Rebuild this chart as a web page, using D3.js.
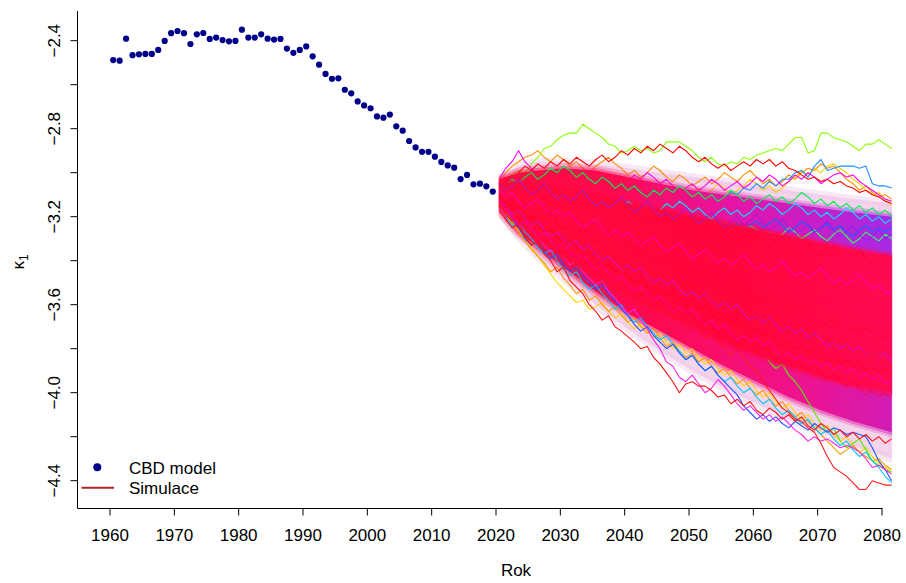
<!DOCTYPE html>
<html><head><meta charset="utf-8">
<script src="https://cdn.jsdelivr.net/npm/d3@7/dist/d3.min.js"></script>
<style>
body{margin:0;background:#fff}
text{font-family:"Liberation Sans",Arial,Helvetica,sans-serif;fill:#000}
</style>
</head><body>
<svg id="chart" width="906" height="583"></svg>
<script>
// ---------- data ----------
const obsYears = [1960,1961,1962,1963,1964,1965,1966,1967,1968,1969,1970,1971,1972,1973,1974,1975,1976,1977,1978,1979,1980,1981,1982,1983,1984,1985,1986,1987,1988,1989,1990,1991,1992,1993,1994,1995,1996,1997,1998,1999,2000,2001,2002,2003,2004,2005,2006,2007,2008,2009,2010,2011,2012,2013,2014,2015,2016,2017,2018,2019];
const obsKappa = [-2.488,-2.491,-2.391,-2.466,-2.462,-2.460,-2.460,-2.442,-2.401,-2.366,
-2.356,-2.366,-2.415,-2.371,-2.365,-2.392,-2.386,-2.397,-2.403,-2.401,
-2.350,-2.386,-2.386,-2.371,-2.391,-2.395,-2.392,-2.436,-2.455,-2.442,
-2.426,-2.471,-2.509,-2.551,-2.573,-2.571,-2.623,-2.639,-2.676,-2.694,
-2.707,-2.744,-2.750,-2.736,-2.789,-2.809,-2.856,-2.885,-2.905,-2.905,
-2.927,-2.951,-2.967,-2.977,-3.029,-3.010,-3.053,-3.050,-3.062,-3.086];

const simYears = [2020,2021,2022,2023,2024,2025,2026,2027,2028,2029,2030,2031,2032,2033,2034,2035,2036,2037,2038,2039,2040,2041,2042,2043,2044,2045,2046,2047,2048,2049,2050,2051,2052,2053,2054,2055,2056,2057,2058,2059,2060,2061,2062,2063,2064,2065,2066,2067,2068,2069,2070,2071,2072,2073,2074,2075,2076,2077,2078,2079,2080,2081];

const xTickValues = [1960,1970,1980,1990,2000,2010,2020,2030,2040,2050,2060,2070,2080];
const yTickValues = [-2.4,-2.6,-2.8,-3.0,-3.2,-3.4,-3.6,-3.8,-4.0,-4.2,-4.4];
const yLabelValues = [-2.4,-2.8,-3.2,-3.6,-4.0,-4.4];

// density bands of the simulated fan
const bandYears = [2020,2023,2026,2030,2035,2040,2045,2050,2055,2060,2065,2070,2075,2081];
const fringeTop = [-3.03,-2.97,-2.95,-2.95,-2.96,-2.98,-3.00,-3.02,-3.04,-3.06,-3.08,-3.10,-3.12,-3.14];
const fringeBot = [-3.18,-3.29,-3.38,-3.48,-3.60,-3.71,-3.81,-3.90,-3.98,-4.05,-4.12,-4.18,-4.24,-4.30];
const coreTop   = [-3.03,-3.00,-2.99,-2.98,-2.99,-3.02,-3.05,-3.08,-3.10,-3.12,-3.14,-3.16,-3.18,-3.20];
const coreBot   = [-3.17,-3.27,-3.34,-3.43,-3.54,-3.64,-3.72,-3.80,-3.88,-3.95,-4.02,-4.08,-4.13,-4.18];
const centerTop = [-3.05,-3.04,-3.05,-3.07,-3.10,-3.14,-3.17,-3.20,-3.23,-3.26,-3.29,-3.32,-3.35,-3.38];
const centerBot = [-3.15,-3.23,-3.30,-3.38,-3.47,-3.56,-3.63,-3.70,-3.77,-3.83,-3.88,-3.93,-3.97,-4.00];

// individual simulated paths (outer ones visible in the picture)
const simGreenTop = [-3.06,-3.03,-3.01,-2.99,-3.00,-2.96,-2.93,-2.89,-2.88,-2.85,
-2.83,-2.82,-2.82,-2.78,-2.80,-2.82,-2.84,-2.87,-2.88,-2.91,
-2.90,-2.88,-2.90,-2.89,-2.91,-2.90,-2.86,-2.86,-2.86,-2.88,
-2.90,-2.93,-2.95,-2.93,-2.96,-2.97,-2.95,-2.96,-2.93,-2.94,
-2.92,-2.91,-2.90,-2.89,-2.90,-2.87,-2.84,-2.84,-2.91,-2.90,
-2.82,-2.82,-2.84,-2.85,-2.86,-2.88,-2.90,-2.87,-2.87,-2.85,
-2.87,-2.89];
const simBlueTop = [-3.09,-3.07,-3.10,-3.06,-3.08,-3.05,-3.09,-3.11,-3.08,-3.12,
-3.10,-3.07,-3.09,-3.13,-3.11,-3.14,-3.10,-3.08,-3.12,-3.15,
-3.13,-3.10,-3.12,-3.16,-3.14,-3.11,-3.09,-3.12,-3.15,-3.13,
-3.10,-3.12,-3.09,-3.11,-3.14,-3.12,-3.09,-3.10,-3.07,-3.08,
-3.05,-3.07,-3.04,-3.06,-3.03,-3.03,-3.00,-2.99,-3.02,-2.97,
-2.94,-2.99,-2.98,-2.97,-2.97,-2.97,-2.98,-2.97,-3.05,-3.06,
-3.06,-3.07];
const simRedTop = [-3.05,-3.02,-3.04,-3.00,-2.97,-2.99,-2.96,-2.98,-2.95,-2.97,
-2.94,-2.96,-2.93,-2.95,-2.97,-2.94,-2.92,-2.95,-2.93,-2.90,
-2.92,-2.89,-2.91,-2.88,-2.90,-2.87,-2.89,-2.91,-2.88,-2.90,
-2.93,-2.95,-2.93,-2.96,-2.98,-2.96,-2.99,-2.97,-2.95,-2.97,
-2.94,-2.96,-2.94,-2.97,-2.95,-2.98,-2.99,-3.01,-3.03,-3.02,
-3.04,-3.03,-3.05,-3.04,-3.06,-3.07,-3.09,-3.08,-3.10,-3.11,
-3.13,-3.14];
const simOrangeTop = [-3.04,-3.00,-2.97,-2.95,-2.93,-2.92,-2.90,-2.93,-2.95,-2.92,
-2.94,-2.97,-2.95,-2.98,-3.00,-2.97,-2.95,-2.93,-2.96,-2.98,
-3.01,-2.99,-3.02,-3.00,-2.97,-2.99,-3.02,-3.04,-3.01,-3.03,
-3.06,-3.04,-3.02,-3.05,-3.03,-3.00,-3.02,-3.04,-3.01,-2.99,
-3.02,-3.05,-3.03,-3.06,-3.04,-3.01,-3.03,-3.00,-2.98,-2.99,
-2.96,-2.98,-2.97,-3.00,-3.03,-3.05,-3.08,-3.06,-3.09,-3.11,
-3.10,-3.12];
const simMagentaTop = [-3.03,-2.98,-2.95,-2.90,-2.95,-2.98,-3.01,-2.99,-3.03,-3.05,
-3.02,-3.06,-3.08,-3.05,-3.07,-3.10,-3.08,-3.05,-3.03,-3.06,
-3.04,-3.01,-3.03,-3.00,-3.02,-3.05,-3.03,-3.06,-3.09,-3.07,
-3.05,-3.08,-3.06,-3.03,-3.05,-3.08,-3.06,-3.04,-3.07,-3.05,
-3.02,-3.04,-3.01,-3.03,-3.06,-3.04,-3.01,-3.03,-3.00,-3.02,
-3.05,-3.03,-3.01,-3.00,-3.02,-3.01,-3.04,-3.06,-3.08,-3.10,
-3.12,-3.13];
const simYellowTop = [-3.06,-3.04,-3.07,-3.05,-3.02,-3.04,-3.01,-2.99,-3.02,-3.05,
-3.03,-3.06,-3.04,-3.07,-3.09,-3.07,-3.10,-3.08,-3.11,-3.09,
-3.06,-3.08,-3.05,-3.07,-3.10,-3.08,-3.11,-3.13,-3.10,-3.12,
-3.09,-3.07,-3.10,-3.08,-3.05,-3.07,-3.10,-3.08,-3.06,-3.03,
-3.05,-3.08,-3.06,-3.09,-3.07,-3.04,-3.02,-2.99,-3.01,-2.98,
-3.00,-2.97,-2.96,-2.98,-3.00,-3.03,-3.05,-3.08,-3.10,-3.09,
-3.12,-3.15];
const simCyanTop = [-3.07,-3.05,-3.08,-3.10,-3.07,-3.09,-3.12,-3.10,-3.13,-3.11,
-3.08,-3.10,-3.13,-3.15,-3.12,-3.14,-3.17,-3.15,-3.18,-3.16,
-3.13,-3.15,-3.18,-3.16,-3.19,-3.17,-3.14,-3.16,-3.13,-3.15,
-3.18,-3.16,-3.19,-3.21,-3.18,-3.16,-3.19,-3.17,-3.20,-3.18,
-3.15,-3.17,-3.14,-3.16,-3.19,-3.17,-3.14,-3.16,-3.19,-3.17,
-3.20,-3.18,-3.21,-3.19,-3.16,-3.18,-3.21,-3.19,-3.22,-3.20,
-3.23,-3.21];
const simGreen2Top = [-3.08,-3.06,-3.03,-3.05,-3.02,-3.00,-3.03,-3.01,-2.98,-3.00,
-2.97,-2.99,-3.02,-3.00,-3.03,-3.05,-3.02,-3.04,-3.07,-3.05,
-3.08,-3.06,-3.09,-3.11,-3.08,-3.10,-3.07,-3.09,-3.06,-3.08,
-3.11,-3.09,-3.12,-3.10,-3.13,-3.11,-3.08,-3.10,-3.13,-3.11,
-3.14,-3.12,-3.10,-3.13,-3.11,-3.14,-3.12,-3.09,-3.11,-3.14,
-3.12,-3.15,-3.13,-3.16,-3.14,-3.17,-3.15,-3.18,-3.16,-3.19,
-3.17,-3.20];
const simBlueMid = [-3.08,-3.11,-3.09,-3.12,-3.10,-3.14,-3.13,-3.16,-3.15,-3.12,
-3.14,-3.17,-3.16,-3.19,-3.18,-3.15,-3.17,-3.20,-3.22,-3.19,
-3.21,-3.18,-3.20,-3.23,-3.21,-3.24,-3.22,-3.19,-3.21,-3.24,
-3.26,-3.23,-3.25,-3.22,-3.24,-3.27,-3.25,-3.23,-3.26,-3.24,
-3.22,-3.25,-3.23,-3.21,-3.24,-3.27,-3.25,-3.22,-3.24,-3.27,
-3.25,-3.23,-3.26,-3.24,-3.27,-3.29,-3.26,-3.24,-3.27,-3.25,
-3.27,-3.25];
const simGreenMid = [-3.09,-3.07,-3.10,-3.13,-3.11,-3.09,-3.12,-3.10,-3.13,-3.16,
-3.14,-3.11,-3.13,-3.16,-3.14,-3.17,-3.19,-3.16,-3.18,-3.21,
-3.19,-3.22,-3.20,-3.17,-3.19,-3.22,-3.25,-3.23,-3.20,-3.22,
-3.25,-3.23,-3.26,-3.28,-3.25,-3.23,-3.26,-3.29,-3.27,-3.24,
-3.26,-3.29,-3.27,-3.30,-3.28,-3.25,-3.27,-3.30,-3.28,-3.26,
-3.29,-3.31,-3.28,-3.26,-3.29,-3.32,-3.30,-3.27,-3.29,-3.31,
-3.28,-3.30];
const simRedLow = [-3.15,-3.19,-3.22,-3.20,-3.25,-3.28,-3.26,-3.31,-3.34,-3.32,
-3.37,-3.39,-3.36,-3.41,-3.45,-3.43,-3.47,-3.49,-3.46,-3.51,
-3.55,-3.53,-3.56,-3.60,-3.58,-3.62,-3.64,-3.61,-3.66,-3.70,
-3.68,-3.71,-3.75,-3.73,-3.77,-3.79,-3.83,-3.80,-3.84,-3.88,
-3.90,-3.95,-3.99,-4.03,-4.07,-4.09,-4.12,-4.13,-4.16,-4.18,
-4.23,-4.29,-4.34,-4.36,-4.38,-4.41,-4.44,-4.44,-4.40,-4.41,
-4.42,-4.42];
const simRedMid = [-3.17,-3.21,-3.25,-3.23,-3.29,-3.33,-3.31,-3.37,-3.40,-3.45,
-3.43,-3.49,-3.52,-3.55,-3.60,-3.63,-3.67,-3.65,-3.70,-3.72,
-3.745,-3.77,-3.80,-3.79,-3.84,-3.87,-3.91,-3.95,-4.00,-3.96,
-3.95,-3.97,-3.97,-3.99,-4.02,-4.01,-4.05,-4.03,-4.06,-4.04,
-4.08,-4.10,-4.07,-4.09,-4.12,-4.10,-4.13,-4.11,-4.15,-4.17,
-4.14,-4.16,-4.19,-4.17,-4.20,-4.18,-4.21,-4.19,-4.22,-4.20,
-4.23,-4.21];
const simMagentaLow = [-3.16,-3.20,-3.18,-3.22,-3.26,-3.24,-3.29,-3.33,-3.36,-3.34,
-3.38,-3.42,-3.40,-3.45,-3.48,-3.51,-3.49,-3.54,-3.57,-3.61,
-3.64,-3.62,-3.67,-3.71,-3.76,-3.80,-3.86,-3.88,-3.93,-3.95,
-3.92,-3.96,-4.00,-3.98,-3.94,-3.97,-4.01,-4.05,-4.08,-4.06,
-4.09,-4.12,-4.10,-4.13,-4.11,-4.14,-4.17,-4.19,-4.22,-4.20,
-4.22,-4.21,-4.23,-4.25,-4.24,-4.25,-4.27,-4.30,-4.34,-4.33,
-4.35,-4.37];
const simOrangeLow = [-3.14,-3.18,-3.22,-3.27,-3.31,-3.35,-3.38,-3.41,-3.45,-3.43,
-3.48,-3.51,-3.55,-3.53,-3.58,-3.56,-3.60,-3.63,-3.61,-3.65,
-3.68,-3.66,-3.70,-3.73,-3.71,-3.75,-3.79,-3.77,-3.81,-3.84,
-3.82,-3.86,-3.84,-3.88,-3.91,-3.89,-3.93,-3.96,-3.94,-3.98,
-4.01,-3.99,-4.03,-4.06,-4.04,-4.08,-4.11,-4.09,-4.13,-4.16,
-4.19,-4.22,-4.25,-4.28,-4.26,-4.24,-4.27,-4.29,-4.31,-4.30,
-4.33,-4.35];
const simYellowLow = [-3.15,-3.19,-3.23,-3.26,-3.30,-3.34,-3.38,-3.42,-3.46,-3.50,
-3.53,-3.56,-3.59,-3.58,-3.62,-3.61,-3.59,-3.63,-3.66,-3.64,
-3.68,-3.71,-3.69,-3.72,-3.75,-3.73,-3.77,-3.80,-3.78,-3.82,
-3.80,-3.84,-3.87,-3.85,-3.89,-3.92,-3.90,-3.94,-3.97,-3.95,
-3.99,-4.02,-4.00,-4.04,-4.07,-4.05,-4.09,-4.12,-4.10,-4.14,
-4.17,-4.15,-4.19,-4.22,-4.20,-4.24,-4.27,-4.25,-4.29,-4.32,
-4.34,-4.36];
const simBlueLow = [-3.13,-3.17,-3.21,-3.25,-3.30,-3.33,-3.31,-3.36,-3.39,-3.37,
-3.42,-3.45,-3.43,-3.47,-3.50,-3.53,-3.51,-3.55,-3.58,-3.62,
-3.65,-3.69,-3.72,-3.70,-3.74,-3.77,-3.80,-3.78,-3.82,-3.85,
-3.83,-3.87,-3.90,-3.88,-3.92,-3.95,-3.98,-4.01,-4.06,-4.09,
-4.12,-4.10,-4.13,-4.11,-4.14,-4.16,-4.13,-4.15,-4.17,-4.14,
-4.16,-4.18,-4.16,-4.17,-4.19,-4.18,-4.19,-4.20,-4.25,-4.31,
-4.35,-4.40];
const simGreenLow = [-3.12,-3.15,-3.13,-3.18,-3.21,-3.19,-3.24,-3.26,-3.23,-3.28,
-3.31,-3.29,-3.33,-3.36,-3.34,-3.38,-3.41,-3.39,-3.44,-3.46,
-3.43,-3.48,-3.51,-3.49,-3.54,-3.56,-3.53,-3.58,-3.61,-3.59,
-3.64,-3.66,-3.63,-3.68,-3.71,-3.69,-3.74,-3.77,-3.75,-3.80,
-3.83,-3.81,-3.86,-3.89,-3.87,-3.92,-3.95,-3.99,-4.04,-4.09,
-4.14,-4.18,-4.16,-4.22,-4.25,-4.23,-4.21,-4.26,-4.31,-4.33,
-4.35,-4.36];
const simCyanLow = [-3.16,-3.20,-3.24,-3.22,-3.27,-3.30,-3.34,-3.37,-3.35,-3.40,
-3.44,-3.47,-3.45,-3.50,-3.53,-3.51,-3.55,-3.58,-3.62,-3.60,
-3.65,-3.68,-3.66,-3.70,-3.73,-3.76,-3.74,-3.78,-3.81,-3.85,
-3.83,-3.87,-3.90,-3.88,-3.92,-3.95,-3.93,-3.97,-4.00,-3.98,
-4.02,-4.05,-4.03,-4.07,-4.10,-4.08,-4.11,-4.14,-4.12,-4.16,
-4.19,-4.17,-4.21,-4.24,-4.22,-4.26,-4.29,-4.27,-4.31,-4.34,
-4.38,-4.41];
// paths inside the dense core
const simCore1 = [-3.10,-3.14,-3.12,-3.17,-3.15,-3.19,-3.22,-3.20,-3.18,-3.23,
-3.26,-3.24,-3.28,-3.25,-3.29,-3.32,-3.30,-3.27,-3.31,-3.34,
-3.33,-3.37,-3.35,-3.39,-3.42,-3.40,-3.38,-3.42,-3.45,-3.43,
-3.47,-3.50,-3.48,-3.46,-3.49,-3.53,-3.51,-3.55,-3.52,-3.56,
-3.59,-3.57,-3.60,-3.58,-3.62,-3.65,-3.63,-3.61,-3.64,-3.67,
-3.70,-3.68,-3.66,-3.69,-3.72,-3.70,-3.74,-3.71,-3.73,-3.76,
-3.74,-3.72];
const simCore2 = [-3.06,-3.04,-3.08,-3.05,-3.09,-3.11,-3.08,-3.12,-3.10,-3.07,
-3.11,-3.14,-3.12,-3.15,-3.13,-3.17,-3.19,-3.16,-3.20,-3.18,
-3.15,-3.19,-3.22,-3.20,-3.24,-3.21,-3.19,-3.23,-3.26,-3.24,
-3.21,-3.25,-3.28,-3.26,-3.23,-3.27,-3.30,-3.28,-3.32,-3.29,
-3.27,-3.31,-3.34,-3.31,-3.29,-3.33,-3.36,-3.34,-3.31,-3.35,
-3.38,-3.36,-3.33,-3.37,-3.40,-3.38,-3.35,-3.39,-3.42,-3.39,
-3.37,-3.40];
const simCore3 = [-3.14,-3.18,-3.16,-3.21,-3.25,-3.23,-3.28,-3.31,-3.29,-3.34,
-3.37,-3.35,-3.39,-3.42,-3.40,-3.44,-3.47,-3.45,-3.49,-3.52,
-3.50,-3.53,-3.56,-3.54,-3.58,-3.61,-3.59,-3.62,-3.65,-3.63,
-3.66,-3.69,-3.67,-3.70,-3.73,-3.71,-3.74,-3.77,-3.75,-3.78,
-3.81,-3.79,-3.82,-3.85,-3.83,-3.86,-3.89,-3.87,-3.90,-3.88,
-3.91,-3.94,-3.92,-3.95,-3.97,-3.95,-3.98,-4.01,-3.99,-4.02,
-4.00,-4.03];
const simCore4 = [-3.08,-3.11,-3.09,-3.13,-3.16,-3.14,-3.12,-3.16,-3.19,-3.17,
-3.20,-3.18,-3.22,-3.25,-3.23,-3.21,-3.25,-3.28,-3.26,-3.29,
-3.27,-3.30,-3.33,-3.31,-3.29,-3.33,-3.36,-3.34,-3.32,-3.36,
-3.39,-3.37,-3.35,-3.38,-3.41,-3.39,-3.42,-3.40,-3.37,-3.41,
-3.44,-3.42,-3.45,-3.43,-3.40,-3.44,-3.47,-3.45,-3.48,-3.46,
-3.43,-3.47,-3.50,-3.48,-3.51,-3.49,-3.46,-3.50,-3.53,-3.51,
-3.54,-3.55];
const simCore5 = [-3.12,-3.15,-3.19,-3.17,-3.21,-3.24,-3.22,-3.26,-3.29,-3.27,
-3.30,-3.33,-3.31,-3.35,-3.33,-3.37,-3.40,-3.38,-3.41,-3.44,
-3.42,-3.45,-3.43,-3.47,-3.50,-3.48,-3.51,-3.49,-3.53,-3.56,
-3.54,-3.57,-3.55,-3.58,-3.61,-3.59,-3.62,-3.60,-3.64,-3.67,
-3.65,-3.68,-3.66,-3.69,-3.72,-3.70,-3.73,-3.71,-3.75,-3.73,
-3.76,-3.79,-3.77,-3.80,-3.78,-3.81,-3.79,-3.83,-3.81,-3.84,
-3.82,-3.86];
const simCore6 = [-3.11,-3.13,-3.17,-3.20,-3.18,-3.22,-3.20,-3.24,-3.27,-3.25,
-3.28,-3.31,-3.29,-3.33,-3.36,-3.34,-3.37,-3.35,-3.39,-3.42,
-3.40,-3.43,-3.46,-3.44,-3.47,-3.45,-3.49,-3.52,-3.50,-3.53,
-3.51,-3.55,-3.58,-3.56,-3.59,-3.57,-3.61,-3.63,-3.60,-3.64,
-3.67,-3.65,-3.68,-3.66,-3.70,-3.72,-3.69,-3.73,-3.71,-3.75,
-3.77,-3.74,-3.78,-3.76,-3.79,-3.82,-3.80,-3.83,-3.81,-3.84,
-3.86,-3.85];
const simCore7 = [-3.07,-3.10,-3.13,-3.11,-3.15,-3.13,-3.17,-3.15,-3.19,-3.21,
-3.18,-3.22,-3.20,-3.24,-3.27,-3.25,-3.28,-3.26,-3.30,-3.28,
-3.32,-3.35,-3.33,-3.30,-3.34,-3.37,-3.35,-3.39,-3.36,-3.40,
-3.42,-3.39,-3.43,-3.41,-3.45,-3.47,-3.44,-3.48,-3.46,-3.50,
-3.48,-3.52,-3.49,-3.53,-3.55,-3.52,-3.56,-3.54,-3.58,-3.55,
-3.59,-3.57,-3.60,-3.58,-3.62,-3.59,-3.63,-3.61,-3.64,-3.62,
-3.65,-3.63];
const simCore8 = [-3.05,-3.08,-3.06,-3.03,-3.07,-3.10,-3.08,-3.05,-3.09,-3.12,
-3.10,-3.13,-3.11,-3.08,-3.12,-3.15,-3.13,-3.16,-3.14,-3.11,
-3.15,-3.18,-3.16,-3.13,-3.17,-3.20,-3.18,-3.21,-3.19,-3.16,
-3.20,-3.23,-3.21,-3.18,-3.22,-3.25,-3.23,-3.20,-3.24,-3.22,
-3.19,-3.23,-3.26,-3.24,-3.21,-3.25,-3.28,-3.26,-3.23,-3.27,
-3.25,-3.22,-3.26,-3.29,-3.27,-3.24,-3.28,-3.31,-3.29,-3.26,
-3.30,-3.28];
const simCore9 = [-3.13,-3.17,-3.20,-3.24,-3.22,-3.26,-3.29,-3.27,-3.31,-3.34,
-3.32,-3.36,-3.39,-3.37,-3.41,-3.44,-3.42,-3.46,-3.49,-3.47,
-3.51,-3.54,-3.52,-3.55,-3.58,-3.56,-3.60,-3.63,-3.61,-3.64,
-3.62,-3.66,-3.69,-3.67,-3.71,-3.69,-3.73,-3.76,-3.74,-3.77,
-3.75,-3.79,-3.77,-3.81,-3.84,-3.82,-3.85,-3.83,-3.87,-3.85,
-3.88,-3.86,-3.90,-3.88,-3.91,-3.89,-3.93,-3.91,-3.94,-3.92,
-3.96,-3.95];
const simCore10 = [-3.12,-3.16,-3.14,-3.18,-3.22,-3.20,-3.24,-3.27,-3.25,-3.29,
-3.33,-3.31,-3.34,-3.38,-3.36,-3.40,-3.43,-3.41,-3.45,-3.43,
-3.47,-3.50,-3.48,-3.52,-3.55,-3.53,-3.56,-3.54,-3.58,-3.61,
-3.59,-3.62,-3.60,-3.64,-3.67,-3.65,-3.68,-3.66,-3.70,-3.73,
-3.71,-3.74,-3.72,-3.76,-3.79,-3.77,-3.80,-3.78,-3.82,-3.80,
-3.83,-3.86,-3.84,-3.87,-3.85,-3.88,-3.86,-3.90,-3.88,-3.91,
-3.89,-3.92];

// ---------- drawing ----------
const svg = d3.select("#chart");
const x = d3.scaleLinear().domain([1960, 2080]).range([110, 882]);
const y = d3.scaleLinear().domain([-2.4, -4.4]).range([40.7, 480.7]);
const mid = 0.5; // values are mid-year estimates
const plotLeft = 77.5, plotBottom = 508.5, plotTop = 11, plotRight = 882.5;
const simStart = x(simYears[0] + mid), simEnd = x(simYears[simYears.length - 1] + mid);

const defs = svg.append("defs");
defs.append("clipPath").attr("id", "simclip").append("rect")
  .attr("x", simStart - 0.5).attr("y", 0).attr("width", simEnd - simStart + 1).attr("height", 583);
const grad = (id, stops) => {
  const g = defs.append("linearGradient").attr("id", id)
    .attr("gradientUnits", "userSpaceOnUse")
    .attr("x1", simStart).attr("x2", simEnd).attr("y1", 0).attr("y2", 0);
  stops.forEach(([o, c]) => g.append("stop").attr("offset", o).attr("stop-color", c));
};
grad("upperGrad", [[0, "#ff0a40"], [0.3, "#ff0a50"], [0.6, "#e614a8"], [1, "#a62ae6"]]);
grad("lowerGrad", [[0, "#ff0a40"], [0.4, "#ff0a50"], [0.75, "#f0128c"], [1, "#d21cb4"]]);
grad("centerGrad", [[0, "#ff0a40"], [0.6, "#ff063c"], [1, "#ff0a52"]]);

const band = (top, bot) => d3.area()
  .x((d, i) => x(bandYears[i] + mid))
  .y0((d, i) => y(top[i]))
  .y1((d, i) => y(bot[i]))(bandYears);
const simLine = d3.line().x((d, i) => x(simYears[i] + mid)).y(d => y(d));

const gSim = svg.append("g").attr("clip-path", "url(#simclip)");
const drawLines = (list, w) => list.forEach(([vals, col]) => {
  gSim.append("path").attr("d", simLine(vals)).attr("fill", "none")
    .attr("stroke", col).attr("stroke-width", w).attr("stroke-linejoin", "round");
});
const softBand = (top, bot, fill, soft) => {
  const d = band(top, bot);
  gSim.append("path").attr("d", d).attr("fill", "none").attr("stroke", fill)
    .attr("stroke-width", soft * 2).attr("stroke-opacity", 0.22).attr("stroke-linejoin", "round");
  gSim.append("path").attr("d", d).attr("fill", "none").attr("stroke", fill)
    .attr("stroke-width", soft).attr("stroke-opacity", 0.4).attr("stroke-linejoin", "round");
  gSim.append("path").attr("d", d).attr("fill", fill);
};

// pale fringe of sparse lines
const fr = band(fringeTop, fringeBot);
gSim.append("path").attr("d", fr).attr("fill", "none").attr("stroke", "#f2d2ec")
  .attr("stroke-width", 8).attr("stroke-opacity", 0.5).attr("stroke-linejoin", "round");
gSim.append("path").attr("d", fr).attr("fill", "#efc3e6").attr("opacity", 0.7);

drawLines([
  [simOrangeTop, "#ff8c00"], [simYellowTop, "#ffcc00"], [simGreenTop, "#88ff00"],
  [simBlueTop, "#1e8cff"], [simMagentaTop, "#ff00ff"], [simRedTop, "#ff0000"]
], 1.1);

softBand(coreTop, centerBot, "url(#upperGrad)", 5);
softBand(centerTop, coreBot, "url(#lowerGrad)", 5);

drawLines([
  [simYellowLow, "#ffd400"], [simOrangeLow, "#ff9500"], [simGreenLow, "#55ee00"],
  [simGreen2Top, "#00f050"], [simGreenMid, "#30ff60"], [simCyanTop, "#00e0ff"],
  [simCyanLow, "#00c8ff"], [simBlueMid, "#1a60ff"], [simBlueLow, "#2255ff"],
  [simMagentaLow, "#ff22ee"], [simRedMid, "#ff1010"], [simRedLow, "#ff1a1a"]
], 1.1);

softBand(centerTop, centerBot, "url(#centerGrad)", 4);

drawLines([
  [simCore8, "#8a18ff"], [simCore5, "#c010ff"], [simCore4, "#ff00e0"],
  [simCore9, "#ff00c8"], [simCore2, "#ff0030"], [simCore1, "#ff0028"],
  [simCore3, "#ff0038"], [simCore6, "#ff0a20"], [simCore7, "#ff0050"],
  [simCore10, "#ff0018"]
], 0.9);

// observed kappa
svg.append("g").selectAll("circle").data(obsKappa).join("circle")
  .attr("cx", (d, i) => x(obsYears[i] + mid))
  .attr("cy", d => y(d))
  .attr("r", 3.1)
  .attr("fill", "#00008b");

// axes (L box)
svg.append("path")
  .attr("d", `M${plotLeft},${plotTop}V${plotBottom}H${plotRight}`)
  .attr("fill", "none").attr("stroke", "#000").attr("stroke-width", 1);

const fs = "17px";
const xAx = svg.append("g");
xAx.selectAll("line").data(xTickValues).join("line")
  .attr("x1", d => x(d)).attr("x2", d => x(d))
  .attr("y1", plotBottom).attr("y2", plotBottom + 7)
  .attr("stroke", "#000");
xAx.selectAll("text").data(xTickValues).join("text")
  .attr("x", d => x(d)).attr("y", 541)
  .attr("text-anchor", "middle").style("font-size", fs)
  .text(d => d);

const yAx = svg.append("g");
yAx.selectAll("line").data(yTickValues).join("line")
  .attr("x1", plotLeft - 7).attr("x2", plotLeft)
  .attr("y1", d => y(d)).attr("y2", d => y(d))
  .attr("stroke", "#000");
yAx.selectAll("text").data(yLabelValues).join("text")
  .attr("transform", d => `translate(60,${y(d)}) rotate(-90)`)
  .attr("text-anchor", "middle").style("font-size", fs)
  .text(d => d3.format(".1f")(d));

// axis titles
svg.append("text").attr("x", x(2020) + 20).attr("y", 576)
  .attr("text-anchor", "middle").style("font-size", fs).text("Rok");
const kap = svg.append("text")
  .attr("transform", "translate(24,262) rotate(-90)")
  .attr("text-anchor", "middle").style("font-size", fs);
kap.append("tspan").text("κ");
kap.append("tspan").attr("dy", 4).style("font-size", "12px").text("1");

// legend
const lg = svg.append("g");
lg.append("circle").attr("cx", 97.3).attr("cy", 467.3).attr("r", 4).attr("fill", "#00008b");
lg.append("line").attr("x1", 81.5).attr("x2", 114).attr("y1", 487.7).attr("y2", 487.7)
  .attr("stroke", "#b22222").attr("stroke-width", 2);
lg.append("text").attr("x", 129).attr("y", 473.5).style("font-size", fs).text("CBD model");
lg.append("text").attr("x", 129).attr("y", 494).style("font-size", fs).text("Simulace");
</script>
</body></html>
